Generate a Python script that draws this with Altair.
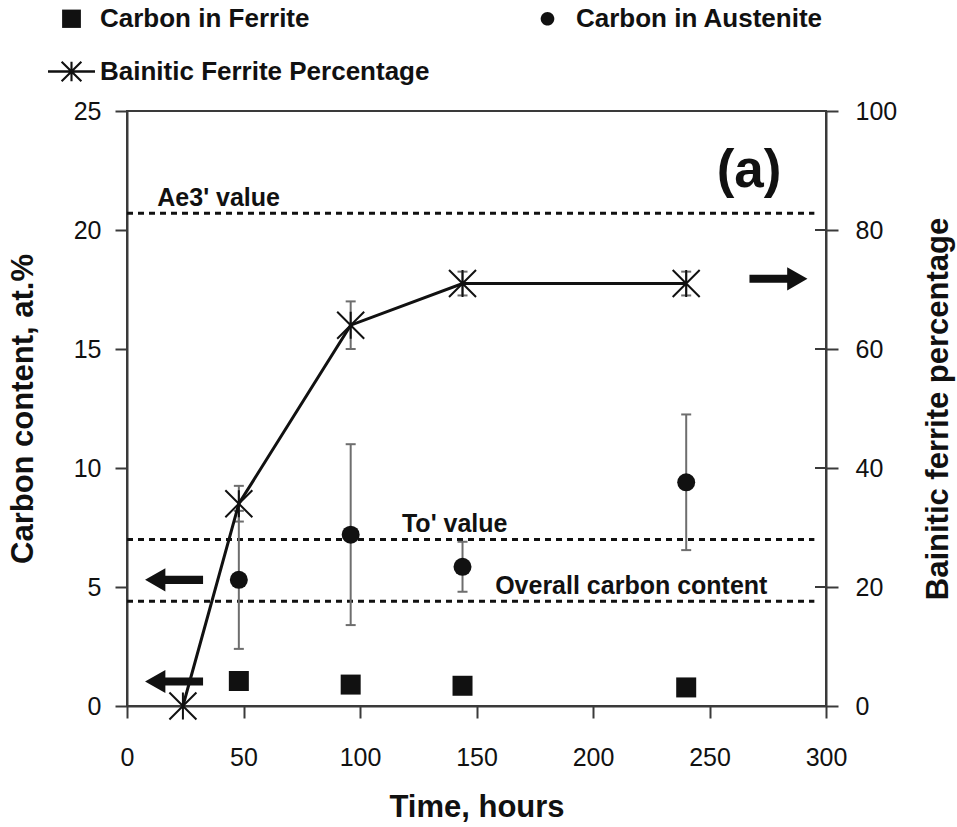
import altair as alt
import pandas as pd

# ---------------------------------------------------------------- data
ferrite_hours = [48, 96, 144, 240]
ferrite_carbon = [1.05, 0.90, 0.85, 0.78]

austenite_hours = [48, 96, 144, 240]
austenite_carbon = [5.3, 7.2, 5.85, 9.4]
austenite_error = [2.9, 3.8, 1.05, 2.85]

bainite_hours = [24, 48, 96, 144, 240]
bainite_percent = [0, 34, 64, 71, 71]
bainite_error = [0, 3, 4, 2, 2]

reference_names = ["Ae3' value", "To' value", "Overall carbon content"]
reference_carbon = [20.7, 7.0, 4.4]

series_names = ["Carbon in Ferrite", "Carbon in Austenite", "Bainitic Ferrite Percentage"]

time_ticks = [0, 50, 100, 150, 200, 250, 300]
carbon_ticks = [0, 5, 10, 15, 20, 25]
percent_ticks = [0, 20, 40, 60, 80, 100]

# ---------------------------------------------------------------- style
FONT = "Liberation Sans"
INK = "#111111"
AXIS_GREY = "#3a3a3a"
ERR_GREY = "#6e6e6e"

STAR = "M-1,-1L1,1M-1,1L1,-1M0,-1L0,1"
# legend glyphs share one symbol box, so each filled path carries its own scale
LEGEND_SQUARE = "M-0.4,-0.39L0.4,-0.39L0.4,0.39L-0.4,0.39Z"
LEGEND_DOT = "M-0.29,0A0.29,0.29,0,1,0,0.29,0A0.29,0.29,0,1,0,-0.29,0Z"
LEGEND_STAR = (
    "M-1,-0.055L1,-0.055L1,0.055L-1,0.055Z"
    "M-0.045,-0.42L0.045,-0.42L0.045,0.42L-0.045,0.42Z"
    "M-0.388,-0.452L0.452,0.388L0.388,0.452L-0.452,-0.388Z"
    "M-0.452,0.388L0.388,-0.452L0.452,-0.388L-0.388,0.452Z"
)
ARROW_LEFT = "M-1,0L-0.3,-0.4L-0.3,-0.14L1,-0.14L1,0.14L-0.3,0.14L-0.3,0.4Z"
ARROW_RIGHT = "M1,0L0.3,-0.4L0.3,-0.14L-1,-0.14L-1,0.14L0.3,0.14L0.3,0.4Z"

# annotation anchors (data units)
LINE_END = 295
label_hours = [13, 118, 158]

# ---------------------------------------------------------------- tables
ferrite = pd.DataFrame({"hours": ferrite_hours, "carbon": ferrite_carbon})

austenite = pd.DataFrame({"hours": austenite_hours, "carbon": austenite_carbon,
                          "err": austenite_error})
austenite["lo"] = austenite["carbon"] - austenite["err"]
austenite["hi"] = austenite["carbon"] + austenite["err"]

bainite = pd.DataFrame({"hours": bainite_hours, "pct": bainite_percent,
                        "err": bainite_error})
bainite["lo"] = bainite["pct"] - bainite["err"]
bainite["hi"] = bainite["pct"] + bainite["err"]
bainite_bars = bainite[bainite["err"] > 0]

references = pd.DataFrame({"name": reference_names, "carbon": reference_carbon,
                           "hours": label_hours})
references["x0"] = 0
references["x1"] = LINE_END

left_arrows = pd.DataFrame({"hours": [20.2, 20.2], "carbon": [5.3, 1.03]})
right_arrow = pd.DataFrame({"hours": [279.6], "pct": [71.8]})
right_ticks = pd.DataFrame({"pct": percent_ticks, "edge": 300})
legend_rows = pd.DataFrame({"series": series_names})

# ---------------------------------------------------------------- scales / axes
x_scale = alt.Scale(domain=[0, 300], nice=False, zero=False)
x_axis = alt.Axis(values=time_ticks, title="Time, hours", tickSize=12,
                  labelPadding=27, titlePadding=22)

carbon_scale = alt.Scale(domain=[0, 25], nice=False, zero=False)
carbon_axis = alt.Axis(values=carbon_ticks, title="Carbon content, at.%", orient="left",
                       tickSize=12, labelPadding=14, titleAngle=270, titleX=-104,
                       titleY=297.5, titleBaseline="middle", titleAlign="center")

percent_scale = alt.Scale(domain=[0, 100], nice=False, zero=False)
percent_axis = alt.Axis(values=percent_ticks, title="Bainitic ferrite percentage",
                        orient="right", tickSize=12, labelPadding=17, titleAngle=270,
                        titleX=112, titleY=297.5, titleBaseline="middle",
                        titleAlign="center")


def tx(field="hours"):
    return alt.X(f"{field}:Q", scale=x_scale, axis=x_axis)


def cy(field="carbon"):
    return alt.Y(f"{field}:Q", scale=carbon_scale, axis=carbon_axis)


def py(field="pct"):
    return alt.Y(f"{field}:Q", scale=percent_scale, axis=percent_axis)


# ---------------------------------------------------------------- left-axis layers
ref_lines = alt.Chart(references).mark_rule(
    strokeDash=[6, 5], strokeWidth=3, color=INK
).encode(x=tx("x0"), x2="x1:Q", y=cy())

ref_text = alt.Chart(references).mark_text(
    align="left", baseline="alphabetic", dy=-7, fontSize=25, fontWeight="bold", color=INK
).encode(x=tx(), y=cy(), text="name:N")

aus_bars = alt.Chart(austenite).mark_rule(color=ERR_GREY, strokeWidth=2).encode(
    x=tx(), y=cy("lo"), y2="hi:Q")
aus_cap_lo = alt.Chart(austenite).mark_rule(
    color=ERR_GREY, strokeWidth=2, xOffset=-5, x2Offset=5
).encode(x=tx(), x2="hours:Q", y=cy("lo"))
aus_cap_hi = alt.Chart(austenite).mark_rule(
    color=ERR_GREY, strokeWidth=2, xOffset=-5, x2Offset=5
).encode(x=tx(), x2="hours:Q", y=cy("hi"))

aus_points = alt.Chart(austenite).mark_point(
    shape="circle", filled=True, size=324, color=INK, opacity=1
).encode(x=tx(), y=cy())

fer_points = alt.Chart(ferrite).mark_point(
    shape="square", filled=True, size=400, color=INK, opacity=1
).encode(x=tx(), y=cy())

arrows_l = alt.Chart(left_arrows).mark_point(
    shape=ARROW_LEFT, size=3364, filled=True, color=INK, opacity=1
).encode(x=tx(), y=cy())

panel_tag = alt.Chart(pd.DataFrame({"hours": [267], "carbon": [21.8]})).mark_text(
    text="(a)", fontSize=53, fontWeight="bold", align="center", baseline="alphabetic",
    color=INK
).encode(x=tx(), y=cy())

legend = alt.Legend(
    orient="none", legendX=-79, legendY=-116, columns=2, direction="horizontal",
    columnPadding=94, rowPadding=16, labelFontSize=26, labelFontWeight="bold",
    labelFont=FONT, labelColor=INK, labelOffset=5, title=None, symbolOpacity=1,
    symbolSize=2209, symbolStrokeWidth=0, symbolFillColor=INK,
    padding=0, labelLimit=600,
)
legend_layer = alt.Chart(legend_rows).mark_point(
    filled=True, fill=INK, strokeWidth=0, opacity=0
).encode(
    shape=alt.Shape("series:N", scale=alt.Scale(
        domain=series_names, range=[LEGEND_SQUARE, LEGEND_DOT, LEGEND_STAR]),
        legend=legend),
)

left = alt.layer(ref_lines, ref_text, aus_bars, aus_cap_lo, aus_cap_hi, aus_points,
                 fer_points, arrows_l, panel_tag, legend_layer)

# ---------------------------------------------------------------- right-axis layers
bai_line = alt.Chart(bainite).mark_line(color=INK, strokeWidth=3).encode(
    x=tx(), y=py())
bai_bars = alt.Chart(bainite_bars).mark_rule(color=ERR_GREY, strokeWidth=2).encode(
    x=tx(), y=py("lo"), y2="hi:Q")
bai_cap_lo = alt.Chart(bainite_bars).mark_rule(
    color=ERR_GREY, strokeWidth=2, xOffset=-5, x2Offset=5
).encode(x=tx(), x2="hours:Q", y=py("lo"))
bai_cap_hi = alt.Chart(bainite_bars).mark_rule(
    color=ERR_GREY, strokeWidth=2, xOffset=-5, x2Offset=5
).encode(x=tx(), x2="hours:Q", y=py("hi"))
bai_points = alt.Chart(bainite).mark_point(
    shape=STAR, size=729, filled=False, stroke=INK, strokeWidth=2, opacity=1
).encode(x=tx(), y=py())
arrow_r = alt.Chart(right_arrow).mark_point(
    shape=ARROW_RIGHT, size=3364, filled=True, color=INK, opacity=1
).encode(x=tx(), y=py())
inner_ticks = alt.Chart(right_ticks).mark_rule(
    color=AXIS_GREY, strokeWidth=2, x2Offset=-11
).encode(x=tx("edge"), x2="edge:Q", y=py())

right = alt.layer(bai_bars, bai_cap_lo, bai_cap_hi, bai_line, bai_points, arrow_r,
                  inner_ticks)

chart = (
    alt.layer(left, right)
    .resolve_scale(y="independent")
    .properties(
        width=699, height=595,
        padding={"left": 127, "top": 111, "right": 131, "bottom": 121},
        autosize=alt.AutoSizeParams(type="none"),
        background="white",
    )
    .configure_view(stroke=AXIS_GREY, strokeWidth=2)
    .configure_axis(
        labelFont=FONT, labelFontSize=25, labelColor=INK, labelFlush=False,
        labelOverlap=False, titleFont=FONT, titleFontSize=31, titleFontWeight="bold",
        titleColor=INK, domainColor=AXIS_GREY, domainWidth=2, tickColor=AXIS_GREY,
        tickWidth=2, grid=False,
    )
    .configure_text(font=FONT)
)

chart.save("out.html", embed_options={"renderer": "svg", "actions": False})
